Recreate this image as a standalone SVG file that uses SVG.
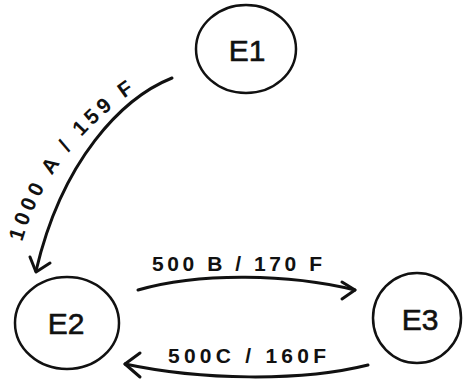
<svg xmlns="http://www.w3.org/2000/svg" width="465" height="387" viewBox="0 0 465 387">
<style>
.node ellipse{fill:none;stroke:#111;stroke-width:2.5}
.node text{font-family:"Liberation Sans",Arial,sans-serif;font-size:30px;fill:#111;text-anchor:middle;stroke:#111;stroke-width:0.6}
.edge{fill:none;stroke:#111;stroke-width:3;stroke-linecap:round;stroke-linejoin:round}
.lbl{font-family:"Liberation Sans",Arial,sans-serif;font-size:21px;font-weight:bold;fill:#111}
</style>
<defs>
<path id="p1" d="M22,242 C40,180 82,122 152,80"/>
</defs>
<rect width="465" height="387" fill="#fff"/>
<g id="E1" class="node"><ellipse cx="246" cy="49" rx="50" ry="44"/><text x="247" y="61">E1</text></g>
<g id="E2" class="node"><ellipse cx="67" cy="323" rx="52" ry="46"/><text x="66" y="334">E2</text></g>
<g id="E3" class="node"><ellipse cx="417" cy="318" rx="44" ry="45"/><text x="420" y="330">E3</text></g>
<g id="connectors">
<path class="edge" d="M172,78 C122,98 62,160 36,271"/>
<path class="edge" d="M30,257 L36,272 L50,263"/>
<path class="edge" d="M138,290 C200,272 290,274 355,290"/>
<path class="edge" d="M342,282 L355,290 L342,299"/>
<path class="edge" d="M368,365 C300,382 200,380 125,364"/>
<path class="edge" d="M140,353 L125,364 L140,377"/>
</g>
<g id="labels">
<text class="lbl"><textPath href="#p1" textLength="192" lengthAdjust="spacing">1000 A / 159 F</textPath></text>
<text class="lbl" x="152" y="271" textLength="170" lengthAdjust="spacing">500 B / 170 F</text>
<text class="lbl" x="168" y="363" textLength="158" lengthAdjust="spacing">500C / 160F</text>
</g>
</svg>
